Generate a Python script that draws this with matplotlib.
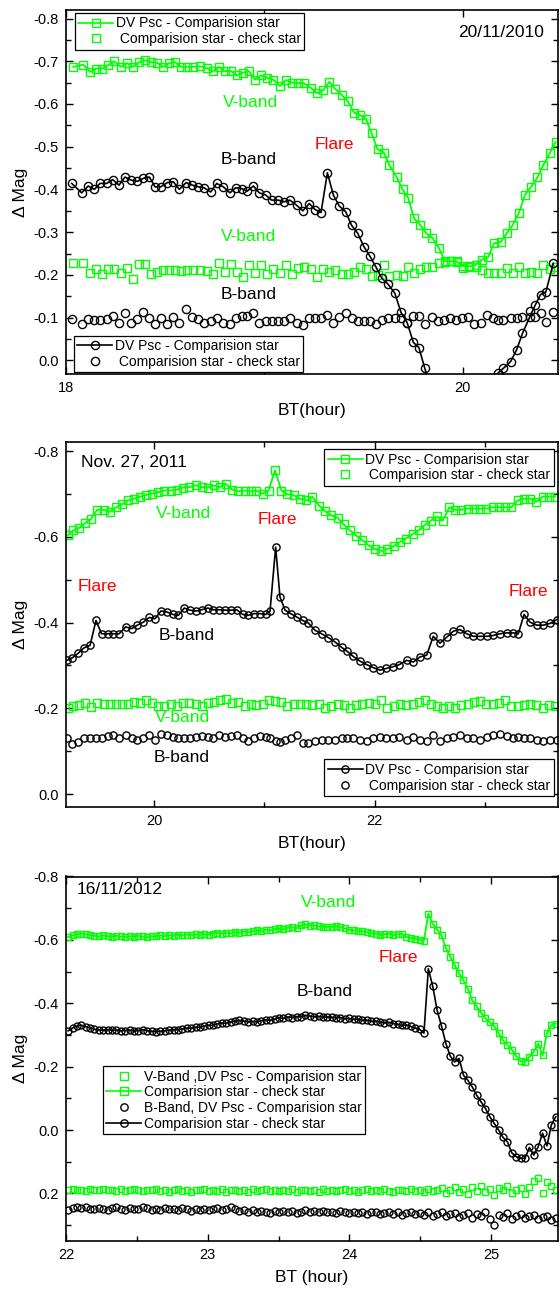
import numpy as np
import matplotlib
matplotlib.use('Agg')
import matplotlib.pyplot as plt
from matplotlib.lines import Line2D
from matplotlib.ticker import MultipleLocator, FormatStrFormatter

plt.rcParams['font.family'] = ['Liberation Sans', 'DejaVu Sans']
plt.rcParams['axes.unicode_minus'] = False

GREEN = '#00ff00'
nan = np.nan
MEW = 1.0

# ---------------- panel 1 : 20/11/2010 ----------------
t_top_v = [18.037, 18.087, 18.121, 18.151, 18.183, 18.213, 18.242, 18.276, 18.306, 18.336,
           18.368, 18.398, 18.427, 18.457, 18.487, 18.519, 18.549, 18.579, 18.611, 18.641,
           18.675, 18.709, 18.739, 18.771, 18.801, 18.831, 18.860, 18.890, 18.922, 18.952,
           18.982, 19.014, 19.044, 19.078, 19.108, 19.140, 19.170, 19.200, 19.233, 19.266,
           19.296, 19.327, 19.355, 19.389, 19.419, 19.451, 19.481, 19.511, 19.540, 19.570,
           19.602, 19.629, 19.666, 19.696, 19.724, 19.754, 19.786, 19.816, 19.846, 19.879,
           19.909, 19.939, 19.968, 19.998, 20.031, 20.064, 20.097, 20.127, 20.157, 20.191,
           20.220, 20.250, 20.282, 20.312, 20.343, 20.375, 20.405, 20.439, 20.467]
v_top_dv = [-0.687, -0.692, -0.675, -0.683, -0.683, -0.691, -0.700, -0.687, -0.696, -0.687,
            -0.698, -0.702, -0.698, -0.697, -0.687, -0.695, -0.698, -0.687, -0.687, -0.687,
            -0.688, -0.684, -0.677, -0.687, -0.677, -0.677, -0.667, -0.673, -0.677, -0.657,
            -0.667, -0.661, -0.657, -0.642, -0.656, -0.650, -0.649, -0.648, -0.638, -0.625,
            -0.632, -0.652, -0.636, -0.621, -0.607, -0.580, -0.574, -0.566, -0.531, -0.494,
            -0.486, -0.457, -0.429, -0.400, -0.380, -0.332, -0.316, -0.297, -0.287, -0.263,
            -0.232, -0.232, -0.232, -0.221, -0.220, -0.223, -0.236, -0.241, -0.274, -0.277,
            -0.297, -0.316, -0.345, -0.387, -0.406, -0.428, -0.457, -0.486, -0.511]
v_top_chk = [-0.227, -0.227, -0.205, -0.214, -0.202, -0.213, -0.213, -0.205, -0.217, -0.190,
             -0.225, -0.225, -0.201, -0.207, -0.211, -0.211, -0.211, -0.210, -0.211, -0.211,
             -0.211, -0.209, -0.201, -0.227, -0.207, -0.225, -0.207, -0.196, -0.223, -0.205,
             -0.223, -0.201, -0.213, -0.205, -0.223, -0.201, -0.215, -0.219, -0.213, -0.196,
             -0.213, -0.207, -0.211, -0.201, -0.201, -0.207, -0.219, -0.213, -0.197, -0.200,
             -0.223, -0.197, -0.200, -0.197, -0.219, -0.205, -0.213, -0.218, -0.219, -0.227,
             -0.229, -0.233, -0.231, -0.215, -0.219, -0.218, -0.211, -0.205, -0.205, -0.205,
             -0.215, -0.204, -0.218, -0.205, -0.207, -0.205, -0.223, -0.213, -0.218]
t_top_b = [18.029, 18.079, 18.112, 18.143, 18.171, 18.205, 18.235, 18.267, 18.297, 18.327,
           18.359, 18.390, 18.420, 18.449, 18.477, 18.511, 18.541, 18.571, 18.605, 18.637,
           18.667, 18.695, 18.729, 18.759, 18.793, 18.826, 18.855, 18.885, 18.913, 18.944,
           18.974, 19.006, 19.036, 19.070, 19.098, 19.128, 19.162, 19.193, 19.226, 19.255,
           19.285, 19.317, 19.347, 19.377, 19.409, 19.439, 19.469, 19.501, 19.531, 19.561,
           19.590, 19.623, 19.657, 19.688, 19.719, 19.750, 19.778, 19.808, 19.842, 19.872,
           19.904, 19.934, 19.964, 19.996, 20.026, 20.057, 20.089, 20.119, 20.149, 20.176,
           20.203, 20.240, 20.270, 20.300, 20.337, 20.365, 20.391, 20.418, 20.455]
b_top_dv = [-0.414, -0.392, -0.408, -0.400, -0.414, -0.414, -0.423, -0.410, -0.429, -0.422,
            -0.419, -0.426, -0.429, -0.406, -0.406, -0.416, -0.418, -0.400, -0.416, -0.410,
            -0.406, -0.404, -0.394, -0.414, -0.406, -0.392, -0.404, -0.402, -0.396, -0.408,
            -0.392, -0.387, -0.375, -0.375, -0.371, -0.375, -0.363, -0.350, -0.367, -0.353,
            -0.346, -0.439, -0.387, -0.361, -0.348, -0.316, -0.298, -0.266, -0.244, -0.219,
            -0.193, -0.178, -0.157, -0.112, -0.088, -0.042, -0.030, 0.019, 0.070, nan,
            nan, nan, nan, nan, nan, nan, nan, nan, 0.070, 0.030,
            0.019, 0.003, -0.024, -0.063, -0.102, -0.130, -0.154, -0.160, -0.227]
b_top_chk = [-0.096, -0.085, -0.096, -0.094, -0.094, -0.096, -0.104, -0.087, -0.111, -0.088,
             -0.096, -0.112, -0.098, -0.085, -0.098, -0.085, -0.102, -0.088, -0.119, -0.102,
             -0.096, -0.088, -0.093, -0.098, -0.087, -0.085, -0.098, -0.104, -0.104, -0.111,
             -0.088, -0.093, -0.093, -0.093, -0.093, -0.098, -0.088, -0.083, -0.100, -0.100,
             -0.100, -0.106, -0.087, -0.102, -0.111, -0.100, -0.093, -0.093, -0.093, -0.085,
             -0.094, -0.098, -0.098, -0.098, -0.087, -0.104, -0.104, -0.085, -0.102, -0.093,
             -0.094, -0.100, -0.094, -0.098, -0.102, -0.085, -0.087, -0.106, -0.100, -0.094,
             -0.094, -0.098, -0.100, -0.102, -0.115, -0.102, -0.110, -0.090, -0.114]

# ---------------- panel 2 : Nov. 27, 2011 ----------------
t_mid_v = [19.219, 19.267, 19.323, 19.374, 19.430, 19.484, 19.543, 19.597, 19.656, 19.711,
           19.763, 19.818, 19.877, 19.931, 19.986, 20.038, 20.093, 20.151, 20.207, 20.262,
           20.320, 20.378, 20.433, 20.488, 20.540, 20.595, 20.650, 20.708, 20.763, 20.822,
           20.877, 20.928, 20.984, 21.039, 21.097, 21.155, 21.210, 21.266, 21.323, 21.382,
           21.437, 21.495, 21.550, 21.608, 21.664, 21.719, 21.777, 21.832, 21.890, 21.946,
           22.004, 22.062, 22.117, 22.172, 22.230, 22.285, 22.344, 22.399, 22.457, 22.512,
           22.564, 22.619, 22.677, 22.732, 22.787, 22.846, 22.901, 22.959, 23.014, 23.073,
           23.128, 23.185, 23.240, 23.299, 23.353, 23.412, 23.467, 23.526, 23.584, 23.637]
v_mid_dv = [-0.604, -0.615, -0.621, -0.632, -0.642, -0.663, -0.663, -0.658, -0.669, -0.676,
            -0.685, -0.689, -0.694, -0.698, -0.701, -0.704, -0.708, -0.708, -0.710, -0.715,
            -0.716, -0.720, -0.716, -0.715, -0.720, -0.716, -0.724, -0.710, -0.706, -0.708,
            -0.706, -0.708, -0.701, -0.708, -0.755, -0.708, -0.699, -0.697, -0.689, -0.685,
            -0.693, -0.673, -0.660, -0.650, -0.645, -0.629, -0.615, -0.603, -0.592, -0.580,
            -0.572, -0.567, -0.572, -0.578, -0.588, -0.596, -0.606, -0.615, -0.628, -0.638,
            -0.648, -0.638, -0.669, -0.663, -0.663, -0.666, -0.666, -0.666, -0.666, -0.669,
            -0.669, -0.669, -0.669, -0.685, -0.689, -0.689, -0.682, -0.694, -0.694, -0.694]
v_mid_chk = [-0.202, -0.205, -0.207, -0.213, -0.204, -0.213, -0.211, -0.211, -0.211, -0.210,
             -0.210, -0.215, -0.213, -0.220, -0.213, -0.205, -0.205, -0.210, -0.205, -0.213,
             -0.213, -0.210, -0.205, -0.213, -0.215, -0.219, -0.223, -0.213, -0.215, -0.205,
             -0.211, -0.207, -0.211, -0.219, -0.217, -0.215, -0.205, -0.211, -0.211, -0.210,
             -0.207, -0.210, -0.202, -0.205, -0.211, -0.207, -0.202, -0.207, -0.210, -0.213,
             -0.210, -0.219, -0.202, -0.205, -0.211, -0.207, -0.211, -0.215, -0.219, -0.211,
             -0.205, -0.202, -0.205, -0.200, -0.207, -0.211, -0.215, -0.217, -0.211, -0.211,
             -0.213, -0.219, -0.205, -0.205, -0.207, -0.211, -0.207, -0.202, -0.207, -0.205]
t_mid_b = [19.210, 19.260, 19.310, 19.365, 19.420, 19.474, 19.524, 19.579, 19.630, 19.684,
           19.743, 19.798, 19.849, 19.903, 19.957, 20.009, 20.063, 20.115, 20.170, 20.220,
           20.275, 20.326, 20.381, 20.432, 20.487, 20.537, 20.592, 20.644, 20.698, 20.750,
           20.804, 20.855, 20.909, 20.961, 21.013, 21.052, 21.103, 21.142, 21.188, 21.239,
           21.294, 21.348, 21.400, 21.460, 21.520, 21.581, 21.641, 21.702, 21.752, 21.807,
           21.868, 21.928, 21.988, 22.049, 22.103, 22.164, 22.224, 22.291, 22.351, 22.412,
           22.472, 22.532, 22.593, 22.654, 22.714, 22.774, 22.835, 22.895, 22.956, 23.016,
           23.076, 23.137, 23.197, 23.257, 23.303, 23.355, 23.409, 23.470, 23.530, 23.590,
           23.651]
b_mid_dv = [-0.312, -0.318, -0.328, -0.341, -0.347, -0.405, -0.374, -0.374, -0.374, -0.374,
            -0.390, -0.386, -0.394, -0.401, -0.412, -0.409, -0.427, -0.425, -0.419, -0.417,
            -0.434, -0.429, -0.427, -0.430, -0.434, -0.430, -0.430, -0.429, -0.429, -0.430,
            -0.419, -0.417, -0.421, -0.421, -0.419, -0.427, -0.576, -0.460, -0.429, -0.421,
            -0.413, -0.405, -0.399, -0.382, -0.374, -0.365, -0.355, -0.342, -0.333, -0.321,
            -0.310, -0.302, -0.295, -0.289, -0.293, -0.297, -0.302, -0.312, -0.308, -0.320,
            -0.324, -0.368, -0.352, -0.366, -0.380, -0.384, -0.374, -0.368, -0.368, -0.368,
            -0.370, -0.374, -0.376, -0.376, -0.374, -0.419, -0.401, -0.394, -0.394, -0.398,
            -0.407]
b_mid_chk = [-0.130, -0.118, -0.122, -0.130, -0.132, -0.132, -0.132, -0.135, -0.137, -0.132,
             -0.137, -0.132, -0.127, -0.130, -0.137, -0.127, -0.141, -0.137, -0.133, -0.130,
             -0.130, -0.132, -0.133, -0.135, -0.133, -0.132, -0.137, -0.133, -0.135, -0.139,
             -0.132, -0.124, -0.130, -0.135, -0.133, -0.132, -0.124, -0.122, -0.127, -0.130,
             -0.137, -0.120, -0.120, -0.124, -0.127, -0.127, -0.127, -0.130, -0.132, -0.130,
             -0.127, -0.124, -0.130, -0.133, -0.130, -0.130, -0.133, -0.127, -0.133, -0.127,
             -0.124, -0.137, -0.124, -0.130, -0.133, -0.137, -0.130, -0.130, -0.127, -0.133,
             -0.137, -0.141, -0.135, -0.132, -0.133, -0.130, -0.132, -0.127, -0.124, -0.127,
             -0.126]

# ---------------- panel 3 : 16/11/2012 ----------------
t_bot = [22.015, 22.046, 22.077, 22.108, 22.139, 22.170, 22.201, 22.232, 22.263, 22.294,
         22.325, 22.356, 22.387, 22.418, 22.449, 22.480, 22.511, 22.542, 22.573, 22.604,
         22.635, 22.666, 22.697, 22.728, 22.759, 22.790, 22.821, 22.852, 22.883, 22.914,
         22.945, 22.976, 23.007, 23.038, 23.069, 23.100, 23.131, 23.162, 23.193, 23.224,
         23.255, 23.286, 23.317, 23.348, 23.379, 23.410, 23.441, 23.472, 23.503, 23.534,
         23.565, 23.596, 23.627, 23.658, 23.689, 23.720, 23.751, 23.782, 23.813, 23.844,
         23.875, 23.906, 23.937, 23.968, 23.999, 24.030, 24.061, 24.092, 24.123, 24.154,
         24.185, 24.216, 24.247, 24.278, 24.309, 24.340, 24.371, 24.402, 24.433, 24.464,
         24.495, 24.526, 24.557, 24.588, 24.619, 24.650, 24.681, 24.712, 24.743, 24.774,
         24.805, 24.836, 24.867, 24.898, 24.929, 24.960, 24.991, 25.022, 25.053, 25.084,
         25.115, 25.146, 25.177, 25.208, 25.239, 25.270, 25.301, 25.332, 25.363, 25.394,
         25.425, 25.456]
v_bot_dv = [-0.609, -0.614, -0.618, -0.620, -0.618, -0.615, -0.613, -0.611, -0.614, -0.612,
            -0.610, -0.613, -0.611, -0.609, -0.612, -0.610, -0.613, -0.611, -0.608, -0.612,
            -0.611, -0.614, -0.612, -0.615, -0.613, -0.616, -0.614, -0.617, -0.615, -0.618,
            -0.616, -0.619, -0.617, -0.620, -0.622, -0.619, -0.623, -0.621, -0.624, -0.622,
            -0.626, -0.624, -0.628, -0.630, -0.627, -0.632, -0.630, -0.634, -0.636, -0.633,
            -0.638, -0.640, -0.637, -0.646, -0.649, -0.645, -0.646, -0.643, -0.641, -0.641,
            -0.641, -0.643, -0.640, -0.636, -0.632, -0.630, -0.629, -0.628, -0.625, -0.622,
            -0.620, -0.615, -0.618, -0.620, -0.615, -0.618, -0.620, -0.609, -0.606, -0.603,
            -0.601, -0.598, -0.683, -0.651, -0.632, -0.614, -0.574, -0.546, -0.520, -0.494,
            -0.472, -0.446, -0.409, -0.390, -0.370, -0.352, -0.340, -0.328, -0.305, -0.283,
            -0.268, -0.254, -0.233, -0.218, -0.215, -0.231, -0.247, -0.273, -0.236, -0.305,
            -0.331, -0.336]
v_bot_chk = [0.189, 0.186, 0.190, 0.188, 0.191, 0.187, 0.189, 0.190, 0.186, 0.190,
             0.188, 0.191, 0.187, 0.192, 0.189, 0.186, 0.190, 0.193, 0.188, 0.190,
             0.187, 0.191, 0.189, 0.194, 0.188, 0.186, 0.192, 0.189, 0.195, 0.188,
             0.190, 0.186, 0.193, 0.189, 0.191, 0.187, 0.194, 0.190, 0.188, 0.192,
             0.189, 0.195, 0.187, 0.191, 0.190, 0.186, 0.193, 0.189, 0.192, 0.188,
             0.191, 0.187, 0.194, 0.190, 0.188, 0.192, 0.189, 0.195, 0.187, 0.191,
             0.190, 0.193, 0.188, 0.186, 0.192, 0.189, 0.194, 0.190, 0.187, 0.191,
             0.189, 0.193, 0.186, 0.191, 0.195, 0.188, 0.190, 0.192, 0.187, 0.193,
             0.189, 0.196, 0.185, 0.192, 0.190, 0.183, 0.198, 0.188, 0.180, 0.195,
             0.186, 0.202, 0.181, 0.192, 0.178, 0.196, 0.187, 0.205, 0.183, 0.190,
             0.176, 0.199, 0.188, 0.184, 0.203, 0.180, 0.160, 0.152, 0.198, 0.165,
             0.178, 0.190]
b_bot_dv = [-0.313, -0.322, -0.328, -0.331, -0.326, -0.322, -0.318, -0.316, -0.315, -0.317,
            -0.315, -0.316, -0.313, -0.314, -0.316, -0.312, -0.314, -0.317, -0.313, -0.312,
            -0.310, -0.312, -0.313, -0.315, -0.317, -0.316, -0.319, -0.322, -0.321, -0.325,
            -0.324, -0.328, -0.331, -0.330, -0.335, -0.338, -0.337, -0.341, -0.343, -0.346,
            -0.344, -0.341, -0.343, -0.341, -0.345, -0.348, -0.346, -0.350, -0.355, -0.352,
            -0.357, -0.355, -0.358, -0.357, -0.362, -0.360, -0.357, -0.359, -0.356, -0.357,
            -0.356, -0.354, -0.355, -0.351, -0.352, -0.349, -0.350, -0.346, -0.347, -0.343,
            -0.344, -0.340, -0.338, -0.340, -0.336, -0.334, -0.330, -0.332, -0.327, -0.322,
            -0.318, -0.306, -0.509, -0.454, -0.378, -0.328, -0.273, -0.233, -0.215, -0.226,
            -0.173, -0.157, -0.136, -0.110, -0.089, -0.068, -0.042, -0.021, 0.000, 0.023,
            0.037, 0.072, 0.084, 0.089, 0.089, 0.055, 0.079, 0.053, 0.010, 0.050,
            -0.016, -0.042]
b_bot_chk = [0.252, 0.247, 0.244, 0.246, 0.243, 0.248, 0.250, 0.246, 0.249, 0.251,
             0.247, 0.244, 0.249, 0.252, 0.246, 0.250, 0.248, 0.243, 0.247, 0.251,
             0.249, 0.253, 0.246, 0.250, 0.248, 0.252, 0.247, 0.250, 0.254, 0.249,
             0.251, 0.248, 0.253, 0.250, 0.246, 0.252, 0.249, 0.242, 0.250, 0.255,
             0.252, 0.257, 0.253, 0.260, 0.255, 0.258, 0.262, 0.256, 0.259, 0.254,
             0.258, 0.255, 0.261, 0.257, 0.253, 0.259, 0.256, 0.260, 0.255, 0.258,
             0.257, 0.261, 0.256, 0.259, 0.263, 0.258, 0.261, 0.257, 0.264, 0.260,
             0.259, 0.265, 0.261, 0.258, 0.264, 0.260, 0.267, 0.262, 0.259, 0.266,
             0.263, 0.268, 0.260, 0.270, 0.264, 0.258, 0.272, 0.265, 0.261, 0.274,
             0.268, 0.262, 0.276, 0.266, 0.271, 0.259, 0.280, 0.300, 0.268, 0.275,
             0.263, 0.281, 0.270, 0.266, 0.278, 0.272, 0.269, 0.282, 0.275, 0.271,
             0.285, 0.279]

LBL_DV = 'DV Psc - Comparision star'
LBL_CHK = ' Comparision star - check star'


def style(ax, xlim, ylim, xmaj, xmin, ymaj, ymin, xlabel):
    ax.set_xlim(*xlim)
    ax.set_ylim(*ylim)
    ax.xaxis.set_major_locator(MultipleLocator(xmaj))
    ax.xaxis.set_minor_locator(MultipleLocator(xmin))
    ax.yaxis.set_major_locator(MultipleLocator(ymaj))
    ax.yaxis.set_minor_locator(MultipleLocator(ymin))
    ax.yaxis.set_major_formatter(FormatStrFormatter('%.1f'))
    ax.tick_params(which='both', direction='in', top=True, right=True,
                   width=1.0, labelsize=10.5, pad=5)
    ax.tick_params(which='major', length=5)
    ax.tick_params(which='minor', length=3.5)
    for s in ax.spines.values():
        s.set_linewidth(1.2)
    ax.set_xlabel(xlabel, fontsize=12.5, labelpad=6)
    ax.set_ylabel('Δ Mag', fontsize=12.5, labelpad=4)


def leg(ax, handles, labels, loc, anchor, fs=10):
    lg = ax.legend(handles, labels, loc=loc, bbox_to_anchor=anchor, fontsize=fs,
                   frameon=True, fancybox=False, framealpha=1, edgecolor='black',
                   borderpad=0.25, labelspacing=0.12, handlelength=2.5,
                   handletextpad=0.2, borderaxespad=0)
    lg.get_frame().set_linewidth(0.9)
    return lg


def h(color, marker, line, ms):
    return Line2D([], [], color=color, lw=1.2 if line else 0, ls='-' if line else 'none',
                  marker=marker, ms=ms, mfc='none', mec=color, mew=MEW)


fig = plt.figure(figsize=(5.6, 12.93), dpi=100)
W = 492 / 560
ax1 = fig.add_axes([66 / 560, 1 - 374 / 1293, W, 364 / 1293])
ax2 = fig.add_axes([66 / 560, 1 - 807 / 1293, W, 364.5 / 1293])
ax3 = fig.add_axes([66 / 560, 1 - 1241 / 1293, W, 364.5 / 1293])

# panel 1
ms1 = 5.4
ax1.plot(t_top_v, v_top_dv, '-', color=GREEN, lw=1.3, marker='s', ms=ms1, mfc='none', mec=GREEN, mew=MEW)
ax1.plot(t_top_v, v_top_chk, 's', ls='none', ms=ms1, mfc='none', mec=GREEN, mew=MEW)
ax1.plot(t_top_b, b_top_dv, '-', color='black', lw=1.2, marker='o', ms=5.9, mfc='none', mec='black', mew=MEW)
ax1.plot(t_top_b, b_top_chk, 'o', ls='none', ms=5.9, mfc='none', mec='black', mew=MEW)
style(ax1, (18, 20.479), (0.032, -0.82), 2, 1, 0.1, 0.05, 'BT(hour)')
ax1.text(20.19, -0.768, '20/11/2010', fontsize=12.5, ha='center', va='center')
ax1.text(18.93, -0.604, 'V-band', color=GREEN, fontsize=12.5, ha='center', va='center')
ax1.text(18.92, -0.471, 'B-band', color='black', fontsize=12.5, ha='center', va='center')
ax1.text(19.35, -0.506, 'Flare', color='red', fontsize=12.5, ha='center', va='center')
ax1.text(18.92, -0.289, 'V-band', color=GREEN, fontsize=12.5, ha='center', va='center')
ax1.text(18.92, -0.155, 'B-band', color='black', fontsize=12.5, ha='center', va='center')
l1 = leg(ax1, [h(GREEN, 's', True, ms1), h(GREEN, 's', False, ms1)], [LBL_DV, LBL_CHK],
         'upper left', (0.018, 0.992))
ax1.add_artist(l1)
leg(ax1, [h('black', 'o', True, 5.9), h('black', 'o', False, 5.9)], [LBL_DV, LBL_CHK],
    'lower left', (0.016, 0.005))

# panel 2
ms2 = 5.2
ax2.plot(t_mid_v, v_mid_dv, '-', color=GREEN, lw=1.3, marker='s', ms=ms2, mfc='none', mec=GREEN, mew=MEW)
ax2.plot(t_mid_v, v_mid_chk, 's', ls='none', ms=ms2, mfc='none', mec=GREEN, mew=MEW)
ax2.plot(t_mid_b, b_mid_dv, '-', color='black', lw=1.2, marker='o', ms=ms2, mfc='none', mec='black', mew=MEW)
ax2.plot(t_mid_b, b_mid_chk, 'o', ls='none', ms=ms2, mfc='none', mec='black', mew=MEW)
style(ax2, (19.202, 23.663), (0.030, -0.82), 2, 1, 0.2, 0.1, 'BT(hour)')
ax2.text(19.338, -0.774, 'Nov. 27, 2011', fontsize=12.5, ha='left', va='center')
ax2.text(20.263, -0.655, 'V-band', color=GREEN, fontsize=12.5, ha='center', va='center')
ax2.text(21.12, -0.641, 'Flare', color='red', fontsize=12.5, ha='center', va='center')
ax2.text(19.49, -0.485, 'Flare', color='red', fontsize=12.5, ha='center', va='center')
ax2.text(23.39, -0.473, 'Flare', color='red', fontsize=12.5, ha='center', va='center')
ax2.text(20.30, -0.370, 'B-band', color='black', fontsize=12.5, ha='center', va='center')
ax2.text(20.254, -0.179, 'V-band', color=GREEN, fontsize=12.5, ha='center', va='center')
ax2.text(20.254, -0.086, 'B-band', color='black', fontsize=12.5, ha='center', va='center')
l2 = leg(ax2, [h(GREEN, 's', True, ms2), h(GREEN, 's', False, ms2)], [LBL_DV, LBL_CHK],
         'upper right', (0.992, 0.982))
ax2.add_artist(l2)
leg(ax2, [h('black', 'o', True, ms2), h('black', 'o', False, ms2)], [LBL_DV, LBL_CHK],
    'lower right', (0.992, 0.030))

# panel 3
ms3 = 5.0
ax3.plot(t_bot, v_bot_dv, '-', color=GREEN, lw=1.3, marker='s', ms=ms3, mfc='none', mec=GREEN, mew=MEW)
ax3.plot(t_bot, v_bot_chk, 's', ls='none', ms=ms3, mfc='none', mec=GREEN, mew=MEW)
ax3.plot(t_bot, b_bot_dv, '-', color='black', lw=1.2, marker='o', ms=ms3, mfc='none', mec='black', mew=MEW)
ax3.plot(t_bot, b_bot_chk, 'o', ls='none', ms=ms3, mfc='none', mec='black', mew=MEW)
style(ax3, (22, 25.472), (0.35, -0.80), 1, 0.5, 0.2, 0.1, 'BT (hour)')
ax3.text(22.078, -0.759, '16/11/2012', fontsize=12.5, ha='left', va='center')
ax3.text(23.853, -0.718, 'V-band', color=GREEN, fontsize=12.5, ha='center', va='center')
ax3.text(24.347, -0.545, 'Flare', color='red', fontsize=12.5, ha='center', va='center')
ax3.text(23.828, -0.436, 'B-band', color='black', fontsize=12.5, ha='center', va='center')
leg(ax3, [h(GREEN, 's', False, 5.3), h(GREEN, 's', True, 5.3), h('black', 'o', False, 5.3), h('black', 'o', True, 5.3)],
    ['V-Band ,DV Psc - Comparision star', 'Comparision star - check star',
     'B-Band, DV Psc - Comparision star', 'Comparision star - check star'],
    'upper left', (0.075, 0.480), fs=10)

fig.savefig('out.png', dpi=100)
